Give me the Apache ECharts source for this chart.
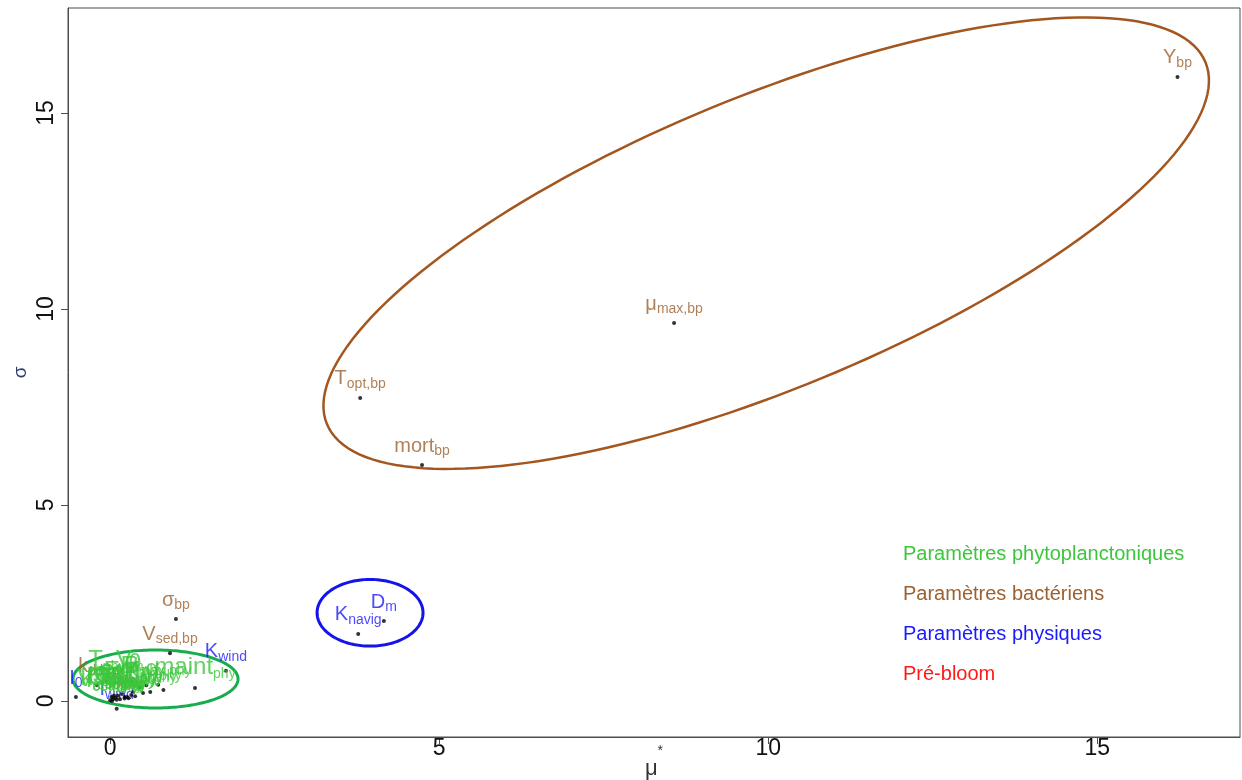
<!DOCTYPE html>
<html><head><meta charset="utf-8">
<script src="https://cdn.jsdelivr.net/npm/echarts@6/dist/echarts.min.js"></script>
<style>html,body{margin:0;padding:0;background:#fff}#c{width:1242px;height:780px}</style>
</head><body><div id="c"></div>
<script>
// ---- tick labels ----
const xTicks = [0, 5, 10, 15];
const yTicks = [0, 5, 10, 15];

// ---- bacterial parameters (mu*, sigma) ----
const bactX    = [16.22, 8.57, 3.80, 4.74, 1.00, 0.91, -0.20];
const bactY    = [15.92, 9.64, 7.73, 6.02, 2.09, 1.22, 0.40];
const bactMain = ['Y', 'μ', 'T', 'mort', 'σ', 'V', 'k'];
const bactSub  = ['bp', 'max,bp', 'opt,bp', 'bp', 'bp', 'sed,bp', 'd,bp'];

// ---- physical parameters ----
const physX    = [3.77, 4.16, 1.76, -0.52, 0.10];
const physY    = [1.71, 2.04, 0.77, 0.10, -0.20];
const physMain = ['K', 'D', 'K', 'I', 'I'];
const physSub  = ['navig', 'm', 'wind', '0', 'wind'];

// ---- pre-bloom parameters ----
const preX    = [0.22];
const preY    = [0.10];
const preMain = ['t'];
const preSub  = ['PB'];

// ---- phytoplankton parameters ----
const phytoX    = [1.29, 0.81, 0.73, 0.61, 0.32, 0.03, 0.08, 0.12, 0.18, 0.45, 0.00, 0.26, 0.55, -0.05, 0.30,
                   0.05, 0.10, 0.22, 0.38, 0.50, 0.02, 0.15, 0.28, 0.06, 0.35];
const phytoY    = [0.33, 0.28, 0.41, 0.23, 0.15, 0.00, 0.08, 0.13, 0.18, 0.35, 0.02, 0.10, 0.40, 0.50, 0.50,
                   0.05, 0.03, 0.06, 0.12, 0.20, 0.10, 0.04, 0.07, 0.14, 0.22];
const phytoMain = ['maint', 'α', 'μ', 'K', 'K', 'I', 'K', 'Q', 'mort', 'E', 'V', 'σ', 'θ', 'T', 'V',
                   'k', 'Chl', 'C', 'N', 'P', 'S', 'R', 'β', 'a', 'Em'];
const phytoSub  = ['phy', 'phy', 'max,phy', 'N,phy', 'P,phy', 'opt,phy', 'Si,phy', 'phy', 'phy', 'phy', 'sed,phy', 'phy', 'phy', 'phy', 'm',
                   'resp,phy', 'phy', 'phy', 'phy', 'phy', 'phy', 'phy', 'phy', 'phy', 'phy'];

// ---- group ellipses: centre and two semi-axis vectors (data units) ----
const ellipseCx = [0.69, 9.97, 3.95];
const ellipseCy = [0.56, 11.68, 2.25];
const ellipseUx = [1.254, 6.675, 0.805];
const ellipseUy = [0.0, 4.617, 0.0];
const ellipseVx = [0.0, -0.845, 0.0];
const ellipseVy = [0.74, 3.444, 0.85];

const legendNames = ['Paramètres phytoplanctoniques', 'Paramètres bactériens', 'Paramètres physiques', 'Pré-bloom'];

const FONT = '"Liberation Sans", Arial, sans-serif';
const C_GREEN = '#3cc63c', C_BROWN = '#9c6130', C_BLUE = '#1a1aff', C_RED = '#ff1a1a';
const ellipseColors = ['#17ad4c', '#a4561f', '#1414e8'];
const ellipseWidths = [3, 2.5, 3];

function makeSeries(name, xs, ys, mains, subs, color, z, mainSize) {
  return {
    name: name, type: 'scatter', z: z,
    data: xs.map((x, i) => [x, ys[i]]),
    symbol: 'circle', symbolSize: 4,
    itemStyle: { color: '#000' },
    emphasis: { disabled: true },
    label: {
      show: true, position: 'top', distance: 5,
      formatter: p => '{m|' + mains[p.dataIndex] + '}{s|' + subs[p.dataIndex] + '}',
      rich: {
        m: { fontSize: mainSize, lineHeight: mainSize + 4, color: color, fontFamily: FONT },
        s: { fontSize: 14, lineHeight: 12, verticalAlign: 'bottom', color: color, fontFamily: FONT }
      }
    }
  };
}

const chart = echarts.init(document.getElementById('c'));
chart.setOption({
  backgroundColor: '#fff',
  animation: false,
  textStyle: { fontFamily: FONT },
  grid: { left: 68, right: 2, top: 8, bottom: 43, show: true, borderColor: '#4d4d4d', borderWidth: 1,
          outerBoundsMode: 'none', containLabel: false },
  xAxis: {
    type: 'value', min: -0.64, max: 17.17,
    name: '{a|μ}{b|*}', nameLocation: 'middle', nameGap: 7, nameMoveOverlap: false,
    nameTextStyle: { rich: {
      a: { fontSize: 22, color: '#333', fontFamily: FONT, lineHeight: 36, verticalAlign: 'bottom' },
      b: { fontSize: 14, color: '#333', fontFamily: FONT, lineHeight: 14, verticalAlign: 'top' } } },
    axisLine: { onZero: false, lineStyle: { color: '#4d4d4d', width: 1 } },
    axisTick: { customValues: xTicks, length: 7, lineStyle: { color: '#4d4d4d' } },
    axisLabel: { customValues: xTicks, fontSize: 23, margin: 0, color: '#111', fontFamily: FONT },
    splitLine: { show: false }
  },
  yAxis: {
    type: 'value', min: -0.92, max: 17.68,
    name: 'σ', nameLocation: 'middle', nameGap: 38, nameRotate: 90, nameMoveOverlap: false,
    nameTextStyle: { fontSize: 19, color: '#2b3f6e', fontFamily: FONT },
    axisLine: { onZero: false, lineStyle: { color: '#4d4d4d', width: 1 } },
    axisTick: { customValues: yTicks, length: 7, lineStyle: { color: '#4d4d4d' } },
    axisLabel: { customValues: yTicks, rotate: 90, fontSize: 23, margin: 10, color: '#111', fontFamily: FONT },
    splitLine: { show: false }
  },
  legend: {
    data: [
      { name: legendNames[0], textStyle: { color: C_GREEN } },
      { name: legendNames[1], textStyle: { color: C_BROWN } },
      { name: legendNames[2], textStyle: { color: C_BLUE } },
      { name: legendNames[3], textStyle: { color: C_RED } }
    ],
    orient: 'vertical', left: 898, top: 542, padding: 0,
    icon: 'none', itemWidth: 0, itemHeight: 14, itemGap: 16,
    selectedMode: false,
    textStyle: { fontSize: 20, lineHeight: 24, fontFamily: FONT }
  },
  series: [
    {
      name: 'ellipses', type: 'custom', z: 1, silent: true,
      data: ellipseCx.map((cx, i) => [cx, ellipseCy[i], ellipseUx[i], ellipseUy[i], ellipseVx[i], ellipseVy[i]]),
      encode: { x: 0, y: 1 },
      renderItem: function (params, api) {
        const cx = api.value(0), cy = api.value(1), ux = api.value(2), uy = api.value(3), vx = api.value(4), vy = api.value(5);
        const pts = [];
        for (let k = 0; k <= 180; k++) {
          const t = k / 180 * 2 * Math.PI;
          pts.push(api.coord([cx + ux * Math.cos(t) + vx * Math.sin(t), cy + uy * Math.cos(t) + vy * Math.sin(t)]));
        }
        return { type: 'polyline', shape: { points: pts },
          style: { stroke: ellipseColors[params.dataIndex], lineWidth: ellipseWidths[params.dataIndex], fill: null } };
      }
    },
    makeSeries(legendNames[1], bactX, bactY, bactMain, bactSub, C_BROWN, 3, 20),
    makeSeries(legendNames[2], physX, physY, physMain, physSub, C_BLUE, 4, 20),
    makeSeries(legendNames[3], preX, preY, preMain, preSub, C_RED, 5, 20),
    makeSeries(legendNames[0], phytoX, phytoY, phytoMain, phytoSub, C_GREEN, 6, 24)
  ]
});
</script>
</body></html>
